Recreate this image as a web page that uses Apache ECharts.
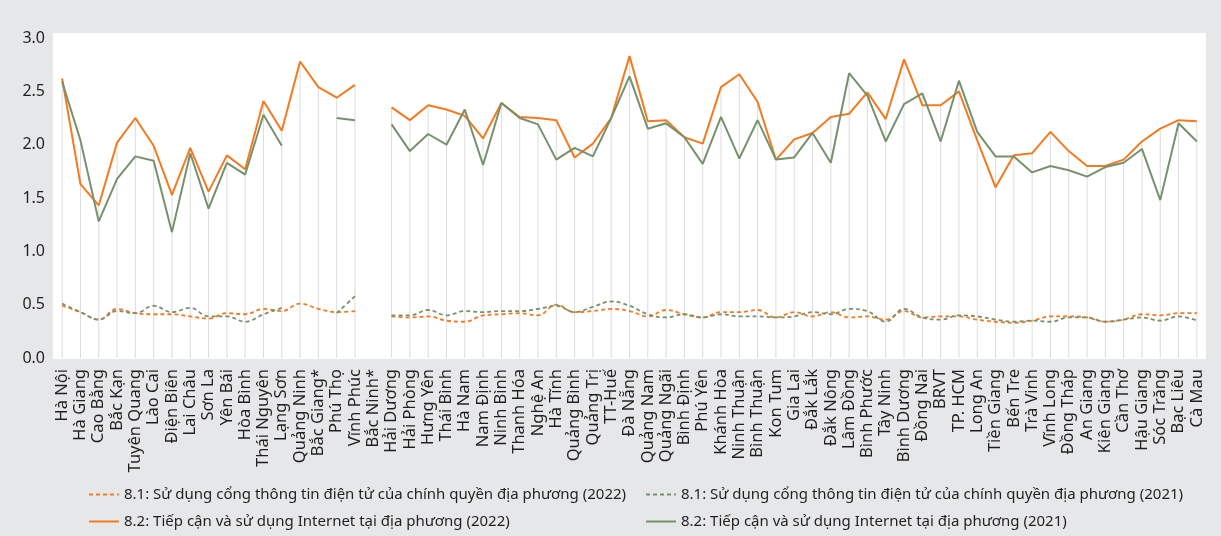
<!DOCTYPE html>
<html>
<head>
<meta charset="utf-8">
<script src="https://cdn.jsdelivr.net/npm/echarts@6/dist/echarts.min.js"></script>
<style>
  html, body { margin: 0; padding: 0; background: #e6e7e8; }
  #chart { width: 1221px; height: 536px; }
</style>
</head>
<body>
<div id="chart"></div>
<script>
// Provinces / cities on the category axis
const categories = [
  'Hà Nội', 'Hà Giang', 'Cao Bằng', 'Bắc Kạn', 'Tuyên Quang', 'Lào Cai', 'Điện Biên', 'Lai Châu',
  'Sơn La', 'Yên Bái', 'Hòa Bình', 'Thái Nguyên', 'Lạng Sơn', 'Quảng Ninh', 'Bắc Giang*', 'Phú Thọ',
  'Vĩnh Phúc', 'Bắc Ninh*', 'Hải Dương', 'Hải Phòng', 'Hưng Yên', 'Thái Bình', 'Hà Nam', 'Nam Định',
  'Ninh Bình', 'Thanh Hóa', 'Nghệ An', 'Hà Tĩnh', 'Quảng Bình', 'Quảng Trị', 'TT-Huế', 'Đà Nẵng',
  'Quảng Nam', 'Quảng Ngãi', 'Bình Định', 'Phú Yên', 'Khánh Hòa', 'Ninh Thuận', 'Bình Thuận', 'Kon Tum',
  'Gia Lai', 'Đắk Lắk', 'Đắk Nông', 'Lâm Đồng', 'Bình Phước', 'Tây Ninh', 'Bình Dương', 'Đồng Nai',
  'BRVT', 'TP. HCM', 'Long An', 'Tiền Giang', 'Bến Tre', 'Trà Vinh', 'Vĩnh Long', 'Đồng Tháp',
  'An Giang', 'Kiên Giang', 'Cần Thơ', 'Hậu Giang', 'Sóc Trăng', 'Bạc Liêu', 'Cà Mau'
];

// 8.1: local e-government portal use
const portal2022 = [
  0.49, 0.43, 0.36, 0.46, 0.42, 0.41, 0.41, 0.39, 0.37, 0.42, 0.41, 0.46, 0.44, 0.51, 0.46, 0.43,
  0.44, null, 0.39, 0.38, 0.39, 0.35, 0.34, 0.40, 0.41, 0.42, 0.40, 0.50, 0.43, 0.44, 0.46, 0.44,
  0.39, 0.45, 0.41, 0.38, 0.43, 0.43, 0.45, 0.38, 0.43, 0.39, 0.43, 0.38, 0.39, 0.36, 0.44, 0.38,
  0.39, 0.39, 0.36, 0.34, 0.33, 0.35, 0.39, 0.39, 0.38, 0.34, 0.36, 0.41, 0.40, 0.42, 0.42
];
const portal2021 = [
  0.51, 0.43, 0.36, 0.44, 0.42, 0.49, 0.43, 0.47, 0.39, 0.39, 0.34, 0.41, 0.47, null, null, 0.42,
  0.58, null, 0.40, 0.40, 0.45, 0.40, 0.44, 0.43, 0.44, 0.44, 0.46, 0.49, 0.43, 0.48, 0.53, 0.49,
  0.41, 0.38, 0.41, 0.38, 0.41, 0.39, 0.39, 0.38, 0.39, 0.43, 0.41, 0.46, 0.44, 0.34, 0.46, 0.38,
  0.36, 0.40, 0.39, 0.36, 0.34, 0.35, 0.34, 0.38, 0.38, 0.34, 0.36, 0.38, 0.35, 0.39, 0.35
];

// 8.2: Internet access and use
const internet2022 = [
  2.62, 1.63, 1.43, 2.02, 2.25, 1.99, 1.53, 1.97, 1.56, 1.90, 1.77, 2.41, 2.13, 2.78, 2.54, 2.44,
  2.56, null, 2.35, 2.23, 2.37, 2.33, 2.27, 2.06, 2.39, 2.26, 2.25, 2.23, 1.88, 2.01, 2.25, 2.83,
  2.22, 2.23, 2.07, 2.01, 2.54, 2.66, 2.40, 1.86, 2.05, 2.11, 2.26, 2.29, 2.49, 2.24, 2.80, 2.37,
  2.37, 2.50, 2.04, 1.60, 1.90, 1.92, 2.12, 1.94, 1.80, 1.80, 1.86, 2.03, 2.15, 2.23, 2.22
];
const internet2021 = [
  2.59, 2.04, 1.28, 1.68, 1.89, 1.85, 1.18, 1.92, 1.40, 1.83, 1.72, 2.28, 1.99, null, null, 2.25,
  2.23, null, 2.19, 1.94, 2.10, 2.00, 2.33, 1.81, 2.39, 2.25, 2.19, 1.86, 1.97, 1.89, 2.25, 2.64,
  2.15, 2.20, 2.07, 1.82, 2.26, 1.87, 2.23, 1.86, 1.88, 2.11, 1.83, 2.67, 2.46, 2.03, 2.38, 2.48,
  2.03, 2.60, 2.12, 1.89, 1.89, 1.74, 1.80, 1.76, 1.70, 1.79, 1.83, 1.96, 1.48, 2.20, 2.03
];

// Value axis range
const yMin = 0;
const yMax = 3.0;
const yStep = 0.5;

const seriesNames = [
  '8.1: Sử dụng cổng thông tin điện tử của chính quyền địa phương (2022)',
  '8.1: Sử dụng cổng thông tin điện tử của chính quyền địa phương (2021)',
  '8.2: Tiếp cận và sử dụng Internet tại địa phương (2022)',
  '8.2: Tiếp cận và sử dụng Internet tại địa phương (2021)'
];

const ORANGE = '#f47a20';
const GREEN = '#78916d';
const TEXT = '#231f20';
const FONT = '"Noto Sans", "Open Sans", sans-serif';

// Drop lines: from the highest value at each province down to the axis
const dropLines = categories.map((_, i) => {
  const vals = [portal2022[i], portal2021[i], internet2022[i], internet2021[i]].filter(v => v != null);
  return vals.length ? Math.max(...vals) : null;
});

const chart = echarts.init(document.getElementById('chart'), null, { renderer: 'canvas' });

const GRID = { left: 53, right: 15, top: 38, bottom: 178 };

const legendBase = {
  orient: 'horizontal',
  selectedMode: false,
  itemWidth: 30,
  itemHeight: 12,
  itemGap: 6,
  padding: 0,
  itemStyle: { color: 'transparent', borderColor: 'transparent', borderWidth: 0 },
  textStyle: { fontFamily: FONT, fontSize: 15, color: TEXT }
};

chart.setOption({
  backgroundColor: '#e6e7e8',
  animation: false,
  graphic: {
    elements: [{
      type: 'rect',
      silent: true,
      z: -10,
      shape: { x: GRID.left, y: 33, width: 1221 - GRID.left - GRID.right, height: 326 },
      style: { fill: '#ffffff' }
    }]
  },
  grid: GRID,
  legend: [
    Object.assign({}, legendBase, { data: [seriesNames[0]], left: 88, top: 487 }),
    Object.assign({}, legendBase, { data: [seriesNames[1]], left: 645, top: 487 }),
    Object.assign({}, legendBase, { data: [seriesNames[2]], left: 88, top: 514 }),
    Object.assign({}, legendBase, { data: [seriesNames[3]], left: 645, top: 514 })
  ],
  xAxis: {
    type: 'category',
    data: categories,
    boundaryGap: true,
    axisLine: { show: false },
    axisTick: { show: false },
    splitLine: { show: false },
    axisLabel: {
      interval: 0,
      rotate: 90,
      margin: 11,
      fontFamily: FONT,
      fontSize: 16.5,
      color: TEXT
    }
  },
  yAxis: {
    type: 'value',
    min: yMin,
    max: yMax,
    interval: yStep,
    axisLine: { show: false },
    axisTick: { show: false },
    splitLine: { show: false },
    axisLabel: {
      margin: 8,
      fontFamily: FONT,
      fontSize: 16,
      color: TEXT,
      formatter: v => v.toFixed(1)
    }
  },
  series: [
    {
      type: 'bar',
      data: dropLines,
      barWidth: 1,
      silent: true,
      itemStyle: { color: '#dcdcdc' },
      z: 1
    },
    {
      name: seriesNames[0],
      type: 'line',
      data: portal2022,
      symbol: 'none',
      smooth: 0.4,
      lineStyle: { color: ORANGE, width: 1.8, type: [4, 3] },
      itemStyle: { color: ORANGE },
      z: 3
    },
    {
      name: seriesNames[1],
      type: 'line',
      data: portal2021,
      symbol: 'none',
      smooth: 0.4,
      lineStyle: { color: GREEN, width: 1.8, type: [4, 3] },
      itemStyle: { color: GREEN },
      z: 3
    },
    {
      name: seriesNames[2],
      type: 'line',
      data: internet2022,
      symbol: 'none',
      lineStyle: { color: ORANGE, width: 2 },
      itemStyle: { color: ORANGE },
      z: 4
    },
    {
      name: seriesNames[3],
      type: 'line',
      data: internet2021,
      symbol: 'none',
      lineStyle: { color: GREEN, width: 2 },
      itemStyle: { color: GREEN },
      z: 4
    }
  ]
});
</script>
</body>
</html>
